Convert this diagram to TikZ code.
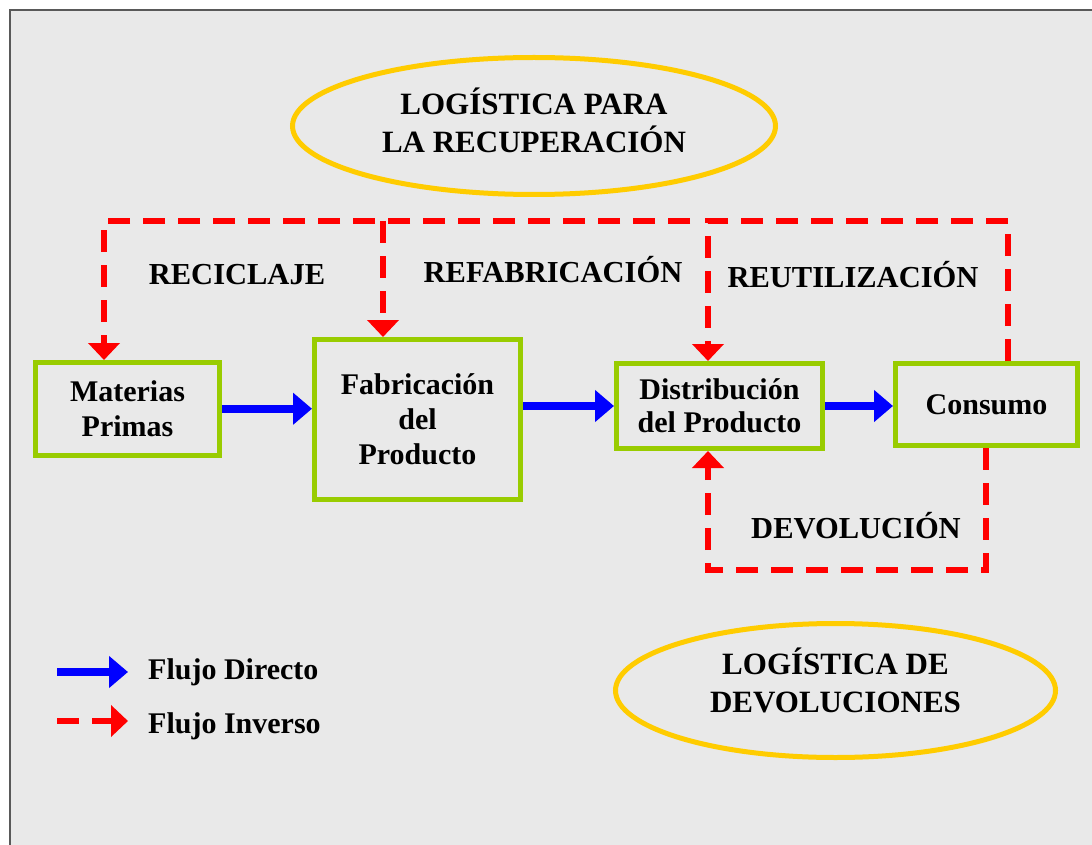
\documentclass[tikz,border=0pt]{standalone}
\usepackage{fontspec}
\setmainfont{Liberation Serif}
\usetikzlibrary{arrows.meta,shapes.geometric,calc}
\definecolor{bgc}{HTML}{E9E9E9}
\definecolor{boxg}{HTML}{99CC00}
\definecolor{ely}{HTML}{FFCC00}
\definecolor{dirb}{HTML}{0000FF}
\definecolor{invr}{HTML}{FF0000}
\begin{document}
\begin{tikzpicture}[x=1pt,y=-1pt,
 box/.style={draw=boxg, line width=5pt, align=center, inner sep=0pt, font=\fontsize{30}{35}\selectfont\bfseries},
 ell/.style={ellipse, draw=ely, line width=5pt, align=center, inner sep=0pt, font=\fontsize{31}{38}\selectfont\bfseries},
 lbl/.style={font=\fontsize{30.5}{36}\selectfont\bfseries, inner sep=0pt, anchor=base},
 leg/.style={font=\fontsize{30}{34}\selectfont\bfseries, inner sep=0pt, anchor=base west},
 direct/.style={draw=dirb, line width=8pt, -{Triangle[width=31pt,length=19pt]}},
 inverse/.style={draw=invr, line width=6pt, dash pattern=on 22pt off 13pt, -{Triangle[width=31pt,length=17pt]}},
]
\useasboundingbox (0,0) rectangle (1092,845);
\clip (0,0) rectangle (1092,845);
\fill[white] (0,0) rectangle (1092,845);
\draw[fill=bgc, draw=black!65, line width=2pt] (10,10) rectangle (1110,870);

% ellipses
\node[ell, minimum width=483pt, minimum height=137pt, text depth=11pt] (e1) at (534,126) {LOGÍSTICA PARA\\LA RECUPERACIÓN};
\node[ell, minimum width=440pt, minimum height=134pt, text depth=20pt] (e2) at (835.5,690.5) {LOGÍSTICA DE\\DEVOLUCIONES};

% boxes
\node[box, minimum width=184pt, minimum height=92.5pt] (mp) at (127.5,408.75) {Materias\\Primas};
\node[box, minimum width=206pt, minimum height=160pt] (fab) at (417.5,419.5) {Fabricación\\del\\Producto};
\node[box, minimum width=206pt, minimum height=85pt, font=\fontsize{30}{33}\selectfont\bfseries] (dist) at (719.5,406) {Distribución\\del Producto};
\node[box, minimum width=182pt, minimum height=82pt] (cons) at (986.5,404.5) {Consumo};

% direct flow
\draw[direct] (mp.east) -- (mp.east -| fab.west);
\draw[direct] (dist.west -| fab.east) -- (dist.west);
\draw[direct] (dist.east) -- (dist.east -| cons.west);

% inverse flow coordinates
\coordinate (tR) at (1008,221);
\coordinate (tM) at (708,221);
\coordinate (tE) at (690,221);
\coordinate (tF) at (383,221);
\coordinate (tL) at (104,221);
\coordinate (bR) at (986,570);
\coordinate (bM) at (708,570);

\draw[inverse] (cons.north -| tR) -- (tR) -- (tM) -- (tM |- dist.north);
\draw[inverse] (tE) -- (tL) -- (tL |- mp.north);
\draw[inverse] (tF) -- (tF |- fab.north);
\draw[inverse] (cons.south -| bR) -- (bR) -- (bM) -- (bM |- dist.south);

% labels
\node[lbl] (lrec) at (237,284) {RECICLAJE};
\node[lbl] (lref) at (553,282) {REFABRICACIÓN};
\node[lbl] (lreu) at (853,287) {REUTILIZACIÓN};
\node[lbl] (ldev) at (856,538) {DEVOLUCIÓN};

% legend
\coordinate (la) at (57,672);
\coordinate (lb) at (128,672);
\coordinate (lc) at (57,721);
\coordinate (ld) at (128,721);
\draw[direct] (la) -- (lb);
\draw[inverse] (lc) -- (ld);
\node[leg] (ldir) at (148,679) {Flujo Directo};
\node[leg] (linv) at (148,733) {Flujo Inverso};
\end{tikzpicture}
\end{document}
